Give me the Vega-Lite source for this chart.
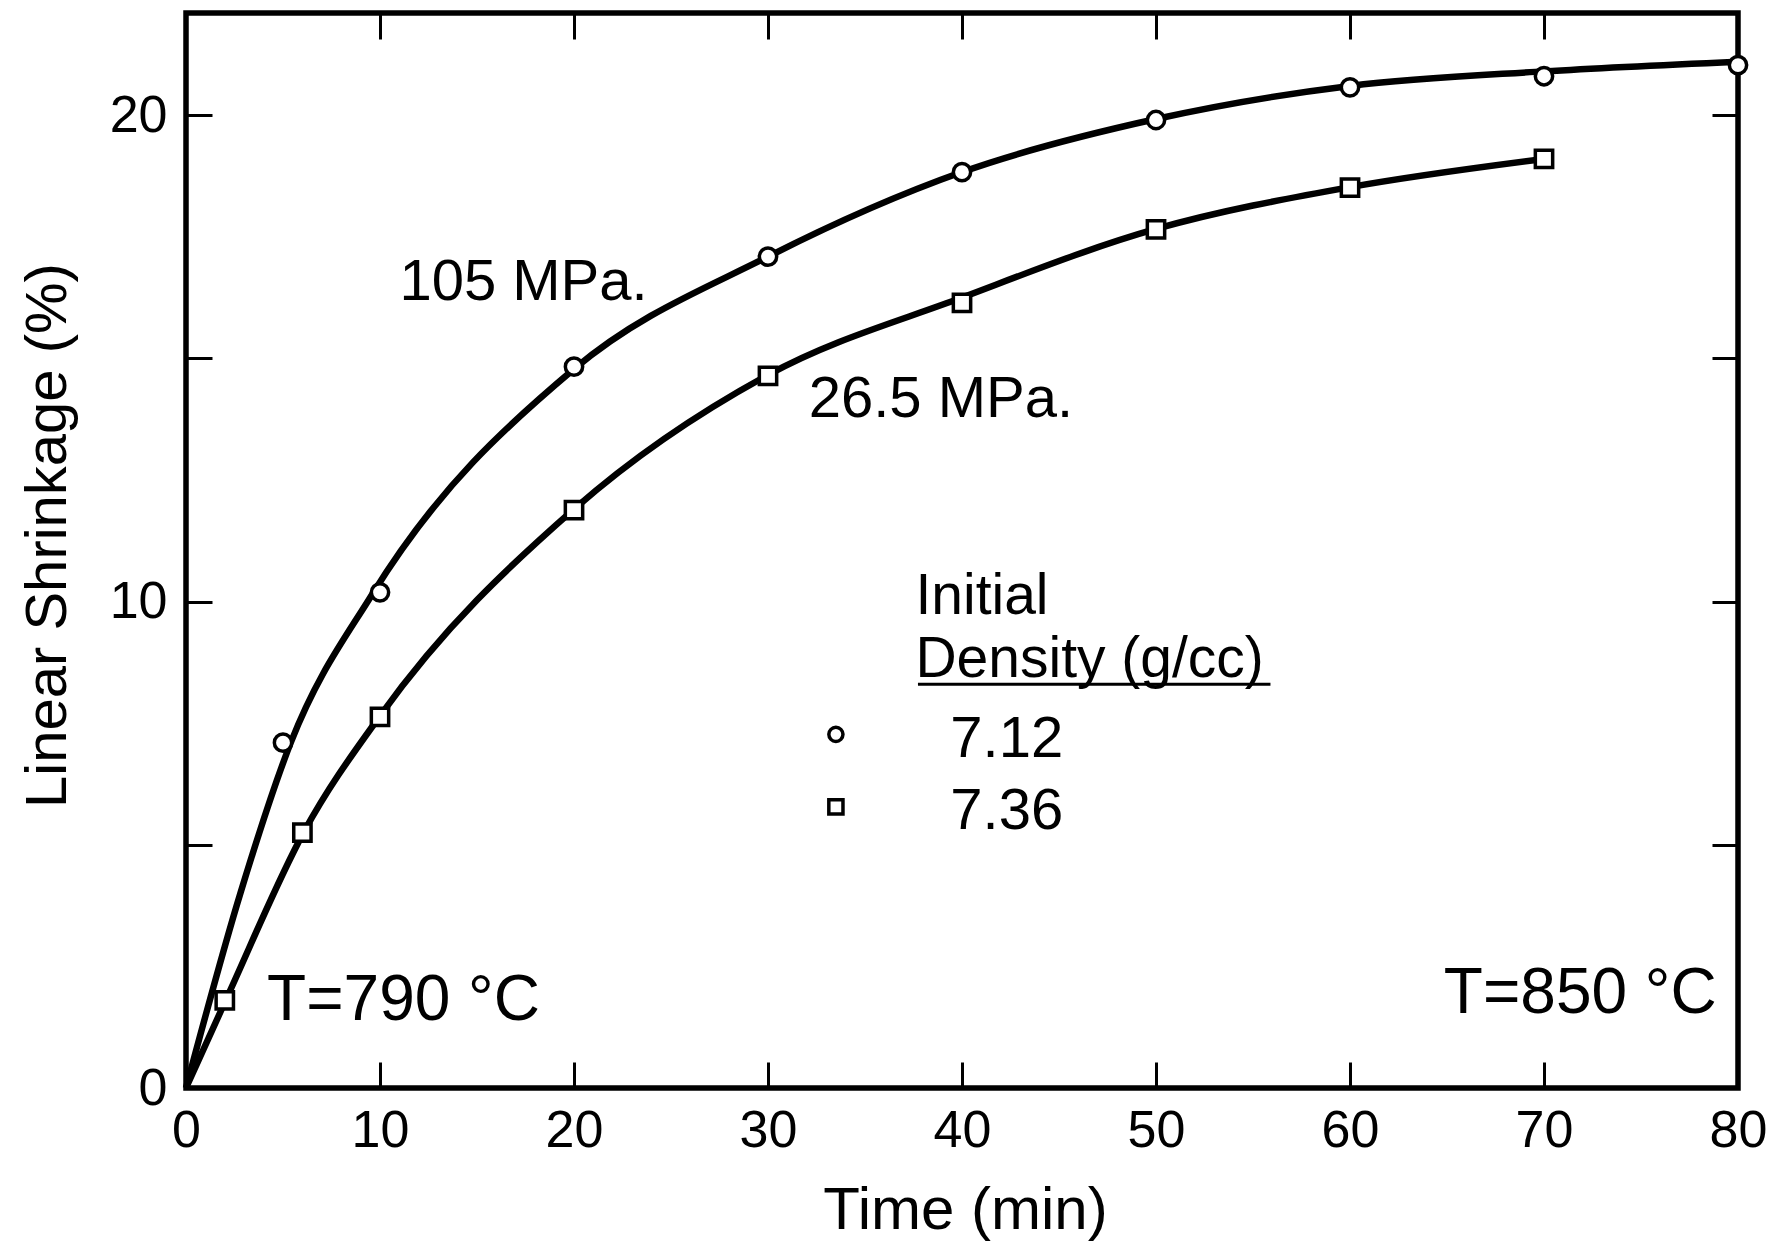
{
  "$schema": "https://vega.github.io/schema/vega-lite/v6.json",
  "width": 1552,
  "height": 1075,
  "autosize": {"type": "none"},
  "padding": {"left": 186, "top": 13, "right": 37, "bottom": 153},
  "background": "white",
  "config": {
    "font": "Liberation Sans",
    "view": {"stroke": "black", "strokeWidth": 5.5},
    "axis": {
      "domain": false,
      "grid": false,
      "tickColor": "black",
      "tickWidth": 3,
      "labelColor": "black",
      "titleColor": "black",
      "titleFontWeight": "normal",
      "labelFont": "Liberation Sans",
      "titleFont": "Liberation Sans",
      "labelFlush": false,
      "labelOverlap": false
    }
  },
  "datasets": {
    "curves": [
      {"pressure": "105 MPa", "time": 0, "shrinkage": 0},
      {"pressure": "105 MPa", "time": 2.8, "shrinkage": 4.0},
      {"pressure": "105 MPa", "time": 5.4, "shrinkage": 7.1},
      {"pressure": "105 MPa", "time": 9.6, "shrinkage": 10.15},
      {"pressure": "105 MPa", "time": 20, "shrinkage": 14.78},
      {"pressure": "105 MPa", "time": 30, "shrinkage": 17.09},
      {"pressure": "105 MPa", "time": 40, "shrinkage": 18.83},
      {"pressure": "105 MPa", "time": 50, "shrinkage": 19.92},
      {"pressure": "105 MPa", "time": 60, "shrinkage": 20.6},
      {"pressure": "105 MPa", "time": 70, "shrinkage": 20.9},
      {"pressure": "105 MPa", "time": 80, "shrinkage": 21.1},
      {"pressure": "26.5 MPa", "time": 0, "shrinkage": 0},
      {"pressure": "26.5 MPa", "time": 2.1, "shrinkage": 1.85},
      {"pressure": "26.5 MPa", "time": 6.1, "shrinkage": 5.28},
      {"pressure": "26.5 MPa", "time": 10, "shrinkage": 7.65},
      {"pressure": "26.5 MPa", "time": 20, "shrinkage": 11.9},
      {"pressure": "26.5 MPa", "time": 30, "shrinkage": 14.66},
      {"pressure": "26.5 MPa", "time": 40, "shrinkage": 16.25},
      {"pressure": "26.5 MPa", "time": 50, "shrinkage": 17.66},
      {"pressure": "26.5 MPa", "time": 60, "shrinkage": 18.52},
      {"pressure": "26.5 MPa", "time": 70, "shrinkage": 19.1}
    ],
    "markers": [
      {"density": "7.12", "time": 5, "shrinkage": 7.1},
      {"density": "7.12", "time": 10, "shrinkage": 10.19},
      {"density": "7.12", "time": 20, "shrinkage": 14.83},
      {"density": "7.12", "time": 30, "shrinkage": 17.09},
      {"density": "7.12", "time": 40, "shrinkage": 18.83},
      {"density": "7.12", "time": 50, "shrinkage": 19.9},
      {"density": "7.12", "time": 60, "shrinkage": 20.57},
      {"density": "7.12", "time": 70, "shrinkage": 20.8},
      {"density": "7.12", "time": 80, "shrinkage": 21.03},
      {"density": "7.36", "time": 2, "shrinkage": 1.8},
      {"density": "7.36", "time": 6, "shrinkage": 5.25},
      {"density": "7.36", "time": 10, "shrinkage": 7.63},
      {"density": "7.36", "time": 20, "shrinkage": 11.88},
      {"density": "7.36", "time": 30, "shrinkage": 14.64},
      {"density": "7.36", "time": 40, "shrinkage": 16.14},
      {"density": "7.36", "time": 50, "shrinkage": 17.65},
      {"density": "7.36", "time": 60, "shrinkage": 18.51},
      {"density": "7.36", "time": 70, "shrinkage": 19.1}
    ]
  },
  "resolve": {"axis": {"x": "independent", "y": "independent"}},
  "layer": [
    {
      "data": {"name": "curves"},
      "mark": {"type": "line", "interpolate": "monotone", "color": "black", "strokeWidth": 6.5},
      "encoding": {
        "x": {
          "field": "time", "type": "quantitative",
          "scale": {"domain": [0, 80], "nice": false, "zero": false},
          "axis": {
            "orient": "bottom",
            "values": [0, 10, 20, 30, 40, 50, 60, 70, 80],
            "tickSize": -26,
            "labelPadding": 43,
            "labelFontSize": 52,
            "title": "Time (min)",
            "titleFontSize": 60,
            "titleBaseline": "alphabetic",
            "titleX": 779,
            "titleY": 140
          }
        },
        "y": {
          "field": "shrinkage", "type": "quantitative",
          "scale": {"domain": [0, 22.1], "nice": false, "zero": false},
          "axis": {
            "orient": "left",
            "values": [0, 5, 10, 15, 20],
            "labelExpr": "datum.value % 10 === 0 ? datum.label : ''",
            "tickSize": -26,
            "labelPadding": 45,
            "labelFontSize": 52,
            "title": "Linear Shrinkage (%)",
            "titleFontSize": 58,
            "titleBaseline": "alphabetic",
            "titleX": -121,
            "titleY": 522
          }
        },
        "detail": {"field": "pressure", "type": "nominal"}
      }
    },
    {
      "data": {"name": "markers"},
      "mark": {"type": "point", "filled": true, "fill": "white", "stroke": "black", "strokeWidth": 3.5, "size": 300, "opacity": 1},
      "encoding": {
        "x": {
          "field": "time", "type": "quantitative",
          "scale": {"domain": [0, 80], "nice": false, "zero": false},
          "axis": {
            "orient": "top",
            "values": [10, 20, 30, 40, 50, 60, 70],
            "tickSize": -26,
            "labels": false,
            "title": null
          }
        },
        "y": {
          "field": "shrinkage", "type": "quantitative",
          "scale": {"domain": [0, 22.1], "nice": false, "zero": false},
          "axis": {
            "orient": "right",
            "values": [5, 10, 15, 20],
            "tickSize": -26,
            "labels": false,
            "title": null
          }
        },
        "shape": {
          "field": "density", "type": "nominal",
          "scale": {"domain": ["7.12", "7.36"], "range": ["circle", "square"]},
          "legend": null
        }
      }
    },
    {
      "data": {"values": [{}]},
      "mark": {"type": "point", "shape": "circle", "filled": true, "fill": "white", "stroke": "black", "strokeWidth": 3.5, "size": 200, "opacity": 1},
      "encoding": {
        "x": {"datum": 33.5, "type": "quantitative", "axis": null},
        "y": {"datum": 7.27, "type": "quantitative", "axis": null}
      }
    },
    {
      "data": {"values": [{}]},
      "mark": {"type": "point", "shape": "square", "filled": true, "fill": "white", "stroke": "black", "strokeWidth": 3.5, "size": 200, "opacity": 1},
      "encoding": {
        "x": {"datum": 33.5, "type": "quantitative", "axis": null},
        "y": {"datum": 5.78, "type": "quantitative", "axis": null}
      }
    },
    {
      "data": {"values": [{}]},
      "mark": {"type": "rule", "color": "black", "strokeWidth": 3},
      "encoding": {
        "x": {"datum": 37.73, "type": "quantitative", "axis": null},
        "x2": {"datum": 55.9},
        "y": {"datum": 8.3, "type": "quantitative", "axis": null}
      }
    },
    {
      "data": {"values": [{}]},
      "mark": {"type": "text", "align": "left", "baseline": "alphabetic", "fontSize": 58, "color": "black"},
      "encoding": {
        "x": {"datum": 11.0, "type": "quantitative", "axis": null},
        "y": {"datum": 16.2, "type": "quantitative", "axis": null},
        "text": {"value": "105 MPa."}
      }
    },
    {
      "data": {"values": [{}]},
      "mark": {"type": "text", "align": "left", "baseline": "alphabetic", "fontSize": 58, "color": "black"},
      "encoding": {
        "x": {"datum": 32.1, "type": "quantitative", "axis": null},
        "y": {"datum": 13.8, "type": "quantitative", "axis": null},
        "text": {"value": "26.5 MPa."}
      }
    },
    {
      "data": {"values": [{}]},
      "mark": {"type": "text", "align": "left", "baseline": "alphabetic", "fontSize": 57, "color": "black"},
      "encoding": {
        "x": {"datum": 37.6, "type": "quantitative", "axis": null},
        "y": {"datum": 9.75, "type": "quantitative", "axis": null},
        "text": {"value": "Initial"}
      }
    },
    {
      "data": {"values": [{}]},
      "mark": {"type": "text", "align": "left", "baseline": "alphabetic", "fontSize": 57, "color": "black"},
      "encoding": {
        "x": {"datum": 37.6, "type": "quantitative", "axis": null},
        "y": {"datum": 8.45, "type": "quantitative", "axis": null},
        "text": {"value": "Density (g/cc)"}
      }
    },
    {
      "data": {"values": [{}]},
      "mark": {"type": "text", "align": "left", "baseline": "alphabetic", "fontSize": 58, "color": "black"},
      "encoding": {
        "x": {"datum": 39.4, "type": "quantitative", "axis": null},
        "y": {"datum": 6.8, "type": "quantitative", "axis": null},
        "text": {"value": "7.12"}
      }
    },
    {
      "data": {"values": [{}]},
      "mark": {"type": "text", "align": "left", "baseline": "alphabetic", "fontSize": 58, "color": "black"},
      "encoding": {
        "x": {"datum": 39.4, "type": "quantitative", "axis": null},
        "y": {"datum": 5.32, "type": "quantitative", "axis": null},
        "text": {"value": "7.36"}
      }
    },
    {
      "data": {"values": [{}]},
      "mark": {"type": "text", "align": "left", "baseline": "alphabetic", "fontSize": 64, "color": "black"},
      "encoding": {
        "x": {"datum": 4.18, "type": "quantitative", "axis": null},
        "y": {"datum": 1.4, "type": "quantitative", "axis": null},
        "text": {"value": "T=790 °C"}
      }
    },
    {
      "data": {"values": [{}]},
      "mark": {"type": "text", "align": "right", "baseline": "alphabetic", "fontSize": 64, "color": "black"},
      "encoding": {
        "x": {"datum": 78.9, "type": "quantitative", "axis": null},
        "y": {"datum": 1.54, "type": "quantitative", "axis": null},
        "text": {"value": "T=850 °C"}
      }
    }
  ]
}
